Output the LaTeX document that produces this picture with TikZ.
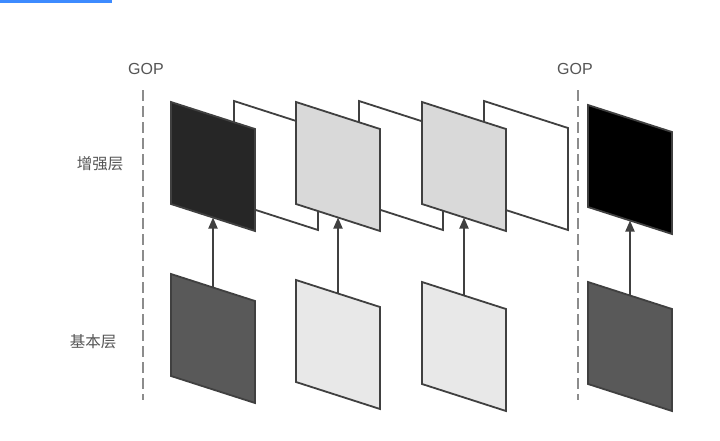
\documentclass[tikz,border=0pt]{standalone}
\usepackage{fontspec}
\setmainfont{Liberation Sans}
\newfontfamily\cjk{Noto Sans CJK SC}
\usetikzlibrary{arrows.meta}
\definecolor{edge}{HTML}{404040}
\definecolor{txt}{HTML}{555555}
\definecolor{dashc}{HTML}{8C8C8C}
\definecolor{barc}{HTML}{3D8BFF}
\definecolor{fI}{HTML}{262626}
\definecolor{fP}{HTML}{D9D9D9}
\definecolor{fB}{HTML}{595959}
\definecolor{fL}{HTML}{E8E8E8}
\newcommand\myframe[4]{%
  \draw[framestyle, fill=#4] (#2,#3) -- ++(84,27) -- ++(0,102) -- ++(-84,-27) -- cycle;
  \coordinate (#1-t) at (#2+42,#3+13.5);
  \coordinate (#1-b) at (#2+42,#3+115.5);
}
\tikzset{
  framestyle/.style={draw=edge, line width=1.8pt, line join=miter},
  arr/.style={draw=edge, line width=1.8pt, -{Triangle[length=11pt,width=9pt]}},
  gopline/.style={draw=dashc, line width=1.3pt, dash pattern=on 11pt off 5pt},
  lbl/.style={text=txt, inner sep=0pt, font=\fontsize{16}{19}\selectfont},
  cjklbl/.style={text=txt, inner sep=0pt, font=\cjk\fontsize{15.5}{18}\selectfont},
}
\begin{document}
\begin{tikzpicture}[x=1pt,y=-1pt]
\useasboundingbox (0,0) rectangle (720,440);
\fill[white] (0,0) rectangle (720,440);
\fill[barc] (0,0) rectangle (112,3);
% GOP separators
\coordinate (d1a) at (143,90);
\coordinate (d1b) at (143,400);
\coordinate (d2a) at (578,90);
\coordinate (d2b) at (578,400);
\draw[gopline] (d1a) -- (d1b);
\draw[gopline] (d2a) -- (d2b);
\node[lbl] (gop1) at (146,69) {GOP};
\node[lbl] (gop2) at (575,69) {GOP};
\node[cjklbl] (enh) at (100,164) {增强层};
\node[cjklbl] (base) at (93,342) {基本层};
% enhancement layer: white frames behind
\myframe{f2}{234}{101}{white}
\myframe{f4}{359}{101}{white}
\myframe{f6}{484}{101}{white}
\myframe{f1}{171}{102}{fI}
\myframe{f3}{296}{102}{fP}
\myframe{f5}{422}{102}{fP}
\myframe{f7}{588}{105}{black}
% base layer
\myframe{b1}{171}{274}{fB}
\myframe{b2}{296}{280}{fL}
\myframe{b3}{422}{282}{fL}
\myframe{b4}{588}{282}{fB}
% arrows
\draw[arr] (b1-t) -- (f1-b);
\draw[arr] (b2-t) -- (f3-b);
\draw[arr] (b3-t) -- (f5-b);
\draw[arr] (b4-t) -- (f7-b);
\end{tikzpicture}
\end{document}
